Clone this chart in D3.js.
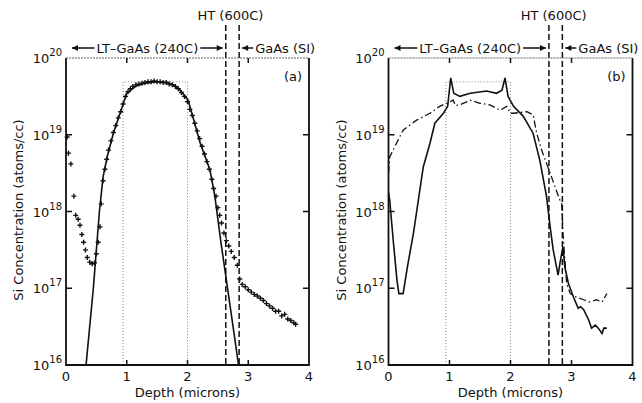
<!DOCTYPE html>
<meta charset='utf-8'>
<title>Si concentration profiles</title>
<style>
html, body { margin: 0; padding: 0; background: #fff; }
text { font-family: 'DejaVu Sans', sans-serif; fill: #111; }
</style>
<script src='https://d3js.org/d3.v7.min.js'></script>
<body>
<script>
// Depth in microns, concentration as log10(atoms/cc)
var aFitDepth = [0.33, 0.45, 0.55, 0.61, 0.68, 0.78, 0.89, 1.0, 1.16, 1.3, 1.49, 1.65, 1.77, 1.88, 2.01, 2.1, 2.21, 2.37, 2.45, 2.55, 2.65, 2.75, 2.84];
var aFitLog   = [16.0, 17.0, 18.0, 18.45, 18.72, 19.02, 19.28, 19.54, 19.64, 19.67, 19.69, 19.68, 19.65, 19.58, 19.45, 19.2, 18.89, 18.54, 18.2, 17.6, 17.05, 16.5, 16.0];

var aSimsDepth = [0.02, 0.04, 0.08, 0.13, 0.16, 0.2, 0.23, 0.26, 0.29, 0.32, 0.35, 0.39, 0.43, 0.47, 0.5, 0.53, 0.56,
  0.58, 0.61, 0.64, 0.67, 0.7, 0.74, 0.78, 0.82, 0.86, 0.9, 0.94, 0.98, 1.02, 1.06, 1.1, 1.15, 1.2, 1.25, 1.3, 1.35, 1.4,
  1.45, 1.5, 1.55, 1.6, 1.65, 1.7, 1.75, 1.8, 1.85, 1.9, 1.95, 2.0, 2.04, 2.08, 2.12, 2.16, 2.2, 2.24, 2.28, 2.32, 2.36,
  2.4, 2.43, 2.47, 2.5, 2.53, 2.56, 2.6, 2.64, 2.68, 2.72, 2.77, 2.82, 2.86, 2.9, 2.95, 3.0, 3.05, 3.1, 3.15, 3.2, 3.25,
  3.3, 3.35, 3.4, 3.45, 3.5, 3.55, 3.6, 3.65, 3.7, 3.75, 3.78];
var aSimsLog = [18.97, 18.76, 18.62, 18.2, 17.95, 17.9, 17.82, 17.7, 17.6, 17.5, 17.4, 17.34, 17.32, 17.33, 17.45, 17.6, 17.8,
  18.1, 18.4, 18.55, 18.68, 18.8, 18.92, 19.03, 19.12, 19.22, 19.3, 19.4, 19.5, 19.56, 19.6, 19.63, 19.65, 19.66, 19.67, 19.68, 19.69, 19.69,
  19.7, 19.69, 19.69, 19.68, 19.68, 19.66, 19.65, 19.63, 19.6, 19.55, 19.5, 19.43, 19.33, 19.25, 19.15, 19.05, 18.95, 18.85, 18.75, 18.65, 18.55,
  18.42, 18.3, 18.2, 18.05, 17.95, 17.85, 17.72, 17.62, 17.55, 17.48, 17.4, 17.3, 17.12, 17.05, 17.02, 16.98, 16.95, 16.92, 16.9, 16.87, 16.84,
  16.8, 16.77, 16.74, 16.7, 16.7, 16.64, 16.66, 16.6, 16.58, 16.55, 16.53];

var bSolidDepth = [0.0, 0.02, 0.08, 0.14, 0.17, 0.24, 0.31, 0.41, 0.49, 0.57, 0.68, 0.76, 0.9, 0.97, 1.02, 1.07, 1.17, 1.34, 1.61, 1.77, 1.86,
  1.91, 1.96, 2.05, 2.21, 2.37, 2.48, 2.59, 2.65, 2.7, 2.78, 2.82, 2.86, 2.89, 2.95, 3.03, 3.11, 3.15, 3.2, 3.28, 3.33, 3.39, 3.44, 3.5, 3.53, 3.58];
var bSolidLog = [18.25, 18.15, 17.6, 17.1, 16.93, 16.93, 17.28, 17.72, 18.15, 18.58, 18.89, 19.15, 19.28, 19.37, 19.74, 19.54, 19.5, 19.54, 19.57, 19.54, 19.58,
  19.74, 19.5, 19.37, 19.24, 19.02, 18.67, 18.2, 17.8, 17.5, 17.17, 17.37, 17.54, 17.28, 17.06, 16.89, 16.74, 16.76, 16.72, 16.59, 16.48, 16.52, 16.48, 16.41, 16.48, 16.48];

var bDashDepth = [0.0, 0.02, 0.1, 0.24, 0.46, 0.68, 0.84, 0.95, 1.06, 1.1, 1.17, 1.34, 1.5, 1.66, 1.83, 1.94, 2.0, 2.05, 2.27, 2.37, 2.43, 2.51,
  2.65, 2.73, 2.81, 2.84, 2.86, 2.92, 2.98, 3.06, 3.2, 3.3, 3.41, 3.5, 3.58];
var bDashLog = [18.5, 18.71, 18.84, 19.06, 19.19, 19.28, 19.37, 19.41, 19.45, 19.38, 19.39, 19.45, 19.41, 19.39, 19.32, 19.37, 19.28, 19.28, 19.3, 19.26, 19.02, 18.8,
  18.5, 18.32, 18.15, 18.1, 17.72, 17.06, 16.93, 16.89, 16.85, 16.82, 16.85, 16.82, 16.93];

// implanted box and layer boundaries
var boxDepth = [0.94, 2.0];
var boxLog = 19.69;
var htDepth = [2.63, 2.85];

var xTicks = [0, 1, 2, 3, 4];
var yTicks = [16, 17, 18, 19, 20];

var width = 642, height = 403;
var svg = d3.select('body').append('svg')
  .attr('width', width)
  .attr('height', height);

function drawPanel(p) {
  var x = d3.scaleLinear().domain([0, 4]).range([p.left, p.right]);
  var y = d3.scaleLog().domain([1e16, 1e20]).range([p.bottom, p.top]);
  var g = svg.append('g');

  var clipId = 'clip' + p.tag;
  svg.append('clipPath').attr('id', clipId)
    .append('rect')
    .attr('x', p.left).attr('y', p.top)
    .attr('width', p.right - p.left).attr('height', p.bottom - p.top);

  // dotted implant box
  g.append('path')
    .attr('d', 'M' + x(boxDepth[0]) + ',' + p.bottom + 'V' + y(Math.pow(10, boxLog)) +
      'H' + x(boxDepth[1]) + 'V' + p.bottom)
    .attr('fill', 'none')
    .attr('stroke', '#888')
    .attr('stroke-width', 1)
    .attr('stroke-dasharray', '1,2');

  // HT layer boundaries
  g.selectAll('.ht')
    .data(htDepth)
    .enter().append('line')
    .attr('x1', d => x(d)).attr('x2', d => x(d))
    .attr('y1', 25).attr('y2', p.bottom)
    .attr('stroke', '#111')
    .attr('stroke-width', 1.5)
    .attr('stroke-dasharray', '6,3');

  var line = d3.line()
    .x(d => x(d[0]))
    .y(d => y(Math.pow(10, d[1])));

  p.series.forEach(function (s) {
    var pts = s.depth.map((d, i) => [d, s.log[i]]);
    if (s.marks) {
      g.append('g').selectAll('path')
        .data(pts)
        .enter().append('path')
        .attr('d', d => 'M' + (x(d[0]) - 2.5) + ',' + y(Math.pow(10, d[1])) + 'h5' +
          'M' + x(d[0]) + ',' + (y(Math.pow(10, d[1])) - 2.5) + 'v5')
        .attr('stroke', '#111')
        .attr('stroke-width', 1.4);
    } else {
      g.append('path')
        .datum(pts)
        .attr('clip-path', 'url(#' + clipId + ')')
        .attr('d', line)
        .attr('fill', 'none')
        .attr('stroke', '#111')
        .attr('stroke-width', s.width || 1.5)
        .attr('stroke-dasharray', s.dash || null);
    }
  });

  // frame
  g.append('path')
    .attr('d', 'M' + p.left + ',' + p.top + 'V' + p.bottom + 'H' + p.right + 'V' + p.top)
    .attr('fill', 'none')
    .attr('stroke', '#111')
    .attr('stroke-width', 1.8);
  g.append('line')
    .attr('x1', p.left).attr('x2', p.right)
    .attr('y1', p.top).attr('y2', p.top)
    .attr('stroke', '#666')
    .attr('stroke-width', 1.2)
    .attr('stroke-dasharray', '2,1');

  // inward ticks
  g.selectAll('.xt')
    .data(xTicks.slice(1, 4))
    .enter().append('path')
    .attr('d', d => 'M' + x(d) + ',' + p.top + 'v5M' + x(d) + ',' + p.bottom + 'v-5')
    .attr('stroke', '#111').attr('stroke-width', 1.5);
  g.selectAll('.yt')
    .data(yTicks.slice(1, 4))
    .enter().append('path')
    .attr('d', d => 'M' + p.left + ',' + y(Math.pow(10, d)) + 'h6M' + p.right + ',' + y(Math.pow(10, d)) + 'h-6')
    .attr('stroke', '#111').attr('stroke-width', 1.5);

  // tick labels
  g.selectAll('.xl')
    .data(xTicks)
    .enter().append('text')
    .attr('x', d => x(d))
    .attr('y', p.bottom + 16)
    .attr('text-anchor', 'middle')
    .attr('font-size', 13)
    .text(d => d);

  var yl = g.selectAll('.yl')
    .data(yTicks)
    .enter().append('text')
    .attr('x', p.left - 4)
    .attr('y', d => y(Math.pow(10, d)) + 5)
    .attr('text-anchor', 'end')
    .attr('font-size', 13);
  yl.append('tspan').text('10');
  yl.append('tspan').attr('dy', -7).attr('font-size', 10).text(d => d);

  // axis titles
  g.append('text')
    .attr('x', (p.left + p.right) / 2)
    .attr('y', 397)
    .attr('text-anchor', 'middle')
    .attr('font-size', 13)
    .text('Depth  (microns)');
  g.append('text')
    .attr('transform', 'translate(' + (p.left - p.titleGap) + ',' + 210 + ')rotate(-90)')
    .attr('text-anchor', 'middle')
    .attr('font-size', 13)
    .text('Si  Concentration  (atoms/cc)');

  g.append('text')
    .attr('x', p.right - 16)
    .attr('y', p.top + 23)
    .attr('text-anchor', 'middle')
    .attr('font-size', 13)
    .text('(' + p.tag + ')');

  // layer annotations
  g.append('text')
    .attr('x', (x(htDepth[0]) + x(htDepth[1])) / 2 - 2)
    .attr('y', 20)
    .attr('text-anchor', 'middle')
    .attr('font-size', 13)
    .text('HT  (600C)');

  var arrowY = 48;
  var ltText = g.append('text')
    .attr('x', (p.left + 6 + x(htDepth[0]) - 3) / 2)
    .attr('y', arrowY + 5)
    .attr('text-anchor', 'middle')
    .attr('font-size', 13)
    .text('LT\u2013GaAs  (240C)');
  var bb = ltText.node().getBBox();
  var arrows = 'M' + (p.left + 6) + ',' + arrowY + 'H' + (bb.x - 2) +
    'M' + (bb.x + bb.width + 2) + ',' + arrowY + 'H' + (x(htDepth[0]) - 3) +
    'M' + (x(htDepth[1]) + 3) + ',' + arrowY + 'H' + (x(htDepth[1]) + 14);
  g.append('path').attr('d', arrows).attr('stroke', '#111').attr('stroke-width', 1.3).attr('fill', 'none');
  var heads = [[p.left + 6, 1], [x(htDepth[0]) - 3, -1], [x(htDepth[1]) + 3, 1]];
  g.selectAll('.head')
    .data(heads)
    .enter().append('path')
    .attr('d', d => 'M' + d[0] + ',' + arrowY + 'l' + (6 * d[1]) + ',-3v6z')
    .attr('fill', '#111');

  g.append('text')
    .attr('x', x(htDepth[1]) + 16)
    .attr('y', arrowY + 5)
    .attr('font-size', 13)
    .text('GaAs  (SI)');
}

drawPanel({
  tag: 'a', left: 66, right: 309, top: 58, bottom: 365, titleGap: 43,
  series: [
    { depth: aFitDepth, log: aFitLog, width: 1.6 },
    { depth: aSimsDepth, log: aSimsLog, marks: true }
  ]
});

drawPanel({
  tag: 'b', left: 388.5, right: 632.5, top: 58, bottom: 365, titleGap: 43,
  series: [
    { depth: bSolidDepth, log: bSolidLog, width: 1.6 },
    { depth: bDashDepth, log: bDashLog, width: 1.3, dash: '7,3,1.5,3' }
  ]
});
</script>
</body>
